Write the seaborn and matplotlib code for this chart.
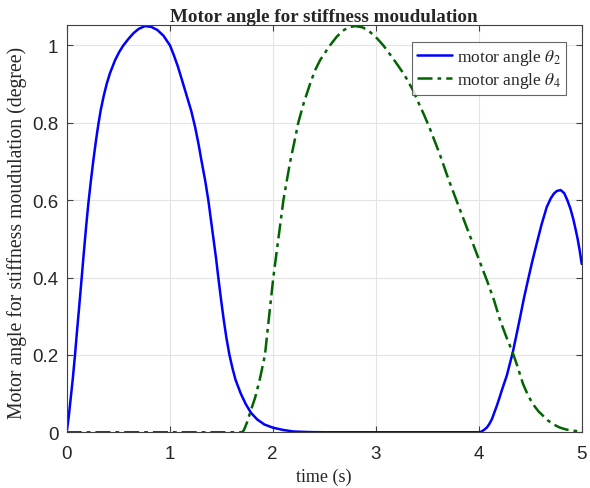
import numpy as np
import pandas as pd
import seaborn as sns
import matplotlib.pyplot as plt

# motor angle theta_2 (blue)
t2 = [0.0, 0.02, 0.04, 0.06, 0.081, 0.10, 0.12, 0.146, 0.165, 0.19, 0.21, 0.235,
      0.26, 0.285, 0.307, 0.33, 0.36, 0.388, 0.42, 0.47, 0.51, 0.55, 0.60, 0.65,
      0.70, 0.76, 0.82, 0.88, 0.94, 1.003, 1.04, 1.08, 1.12, 1.165, 1.21, 1.246,
      1.28, 1.31, 1.345, 1.375, 1.40, 1.425, 1.45, 1.472, 1.50, 1.525, 1.55, 1.58,
      1.61, 1.64, 1.69, 1.74, 1.79, 1.85, 1.92, 2.0, 2.1, 2.2, 2.35, 2.5,
      4.0, 4.02, 4.04, 4.06, 4.078, 4.10, 4.13, 4.15, 4.175, 4.20, 4.22, 4.245,
      4.272, 4.30, 4.33, 4.365, 4.40, 4.44, 4.482, 4.52, 4.563, 4.61, 4.66, 4.70,
      4.73, 4.76, 4.796, 4.83, 4.86, 4.89, 4.918, 4.94, 4.96, 4.98, 5.0]
theta2 = [0.0, 0.04, 0.09, 0.14, 0.2, 0.26, 0.32, 0.4, 0.46, 0.535, 0.59, 0.65,
          0.705, 0.755, 0.795, 0.832, 0.87, 0.9, 0.928, 0.962, 0.983, 1.0, 1.017, 1.032,
          1.043, 1.05, 1.048, 1.04, 1.025, 1.0, 0.975, 0.945, 0.91, 0.87, 0.83, 0.79,
          0.745, 0.70, 0.65, 0.6, 0.55, 0.5, 0.45, 0.4, 0.34, 0.29, 0.245, 0.2,
          0.165, 0.135, 0.1, 0.072, 0.05, 0.033, 0.02, 0.012, 0.006, 0.002, 0.0005, 0.0,
          0.0, 0.001, 0.004, 0.008, 0.012, 0.02, 0.035, 0.05, 0.068, 0.088, 0.105, 0.125,
          0.146, 0.175, 0.206, 0.25, 0.295, 0.348, 0.398, 0.442, 0.488, 0.537, 0.582, 0.605,
          0.617, 0.624, 0.626, 0.618, 0.6, 0.578, 0.551, 0.525, 0.5, 0.47, 0.435]

# motor angle theta_4 (green)
t4 = [0.0, 1.70, 1.72, 1.75, 1.78, 1.83, 1.875, 1.925, 1.965, 2.006, 2.055, 2.104,
      2.14, 2.17, 2.21, 2.248, 2.30, 2.362, 2.41, 2.46, 2.51, 2.556, 2.62, 2.68,
      2.74, 2.80, 2.87, 2.93, 3.0, 3.074, 3.13, 3.19, 3.25, 3.3, 3.36, 3.41,
      3.47, 3.527, 3.62, 3.705, 3.79, 3.883, 4.0, 4.083, 4.15, 4.207, 4.27, 4.33,
      4.37, 4.40, 4.43, 4.466, 4.50, 4.54, 4.58, 4.627, 4.67, 4.70, 4.75, 4.789,
      4.85, 4.9, 4.95, 5.0]
theta4 = [0.0, 0.0, 0.005, 0.025, 0.05, 0.09, 0.137, 0.2, 0.3, 0.4, 0.5, 0.6,
          0.655, 0.7, 0.75, 0.8, 0.85, 0.9, 0.935, 0.962, 0.982, 1.0, 1.022, 1.038,
          1.047, 1.05, 1.047, 1.038, 1.022, 1.0, 0.98, 0.958, 0.935, 0.914, 0.885, 0.855,
          0.82, 0.784, 0.72, 0.655, 0.595, 0.53, 0.448, 0.39, 0.34, 0.29, 0.245, 0.206,
          0.175, 0.15, 0.125, 0.103, 0.085, 0.068, 0.054, 0.042, 0.031, 0.025, 0.017, 0.012,
          0.007, 0.005, 0.003, 0.002]

xticks = [0, 1, 2, 3, 4, 5]
yticks = [0, 0.2, 0.4, 0.6, 0.8, 1]
ytick_labels = ['0', '0.2', '0.4', '0.6', '0.8', '1']

sns.set_theme(style='ticks')
plt.rcParams['font.family'] = ['Liberation Serif', 'DejaVu Serif']
plt.rcParams['mathtext.fontset'] = 'stix'

df2 = pd.DataFrame({'t': t2, 'v': theta2})
df4 = pd.DataFrame({'t': t4, 'v': theta4})

fig = plt.figure(figsize=(5.9, 4.89), dpi=100)
ax = fig.add_axes([0.113, 0.114, 0.873, 0.833])

sns.lineplot(data=df2, x='t', y='v', ax=ax, color='#0000ff', linewidth=1.8,
             sort=False, estimator=None, label=r'motor angle $\theta_2$')
sns.lineplot(data=df4, x='t', y='v', ax=ax, color='#006400', linewidth=1.8,
             sort=False, estimator=None, label=r'motor angle $\theta_4$')
ax.lines[1].set_dashes([6, 2, 1.5, 2])

ax.set_xlim(0, 5)
ax.set_ylim(0, 1.053)
ax.set_xticks(xticks)
ax.set_yticks(yticks)
ax.set_yticklabels(ytick_labels)
for lab in ax.get_xticklabels() + ax.get_yticklabels():
    lab.set_fontfamily('Liberation Sans')
    lab.set_fontsize(13.5)
    lab.set_color('#262626')
ax.tick_params(direction='in', top=True, right=True, length=4, width=0.8, colors='#404040',
               labelcolor='#262626')
ax.tick_params(axis='x', pad=9)
ax.tick_params(axis='y', pad=6)
ax.grid(True, color='#e3e3e3', linewidth=0.8)
for s in ax.spines.values():
    s.set_visible(True)
    s.set_color('#404040')
    s.set_linewidth(0.8)

ax.set_title('Motor angle for stiffness moudulation', fontsize=13.7, fontweight='bold', pad=3)
ax.set_xlabel('time (s)', fontsize=13, labelpad=4)
ax.set_ylabel('Motor angle for stiffness moudulation (degree)', fontsize=14.2)
ax.yaxis.set_label_coords(-0.077, 0.492)

leg = ax.legend(loc='upper right', bbox_to_anchor=(0.9695, 0.958), fontsize=12.5,
                frameon=True, fancybox=False, handlelength=2.0, borderpad=0.3,
                labelspacing=0.15, handletextpad=0.3, borderaxespad=0)
leg.get_frame().set_edgecolor('#404040')
leg.get_frame().set_linewidth(0.8)

fig.savefig('out.png', dpi=100)
